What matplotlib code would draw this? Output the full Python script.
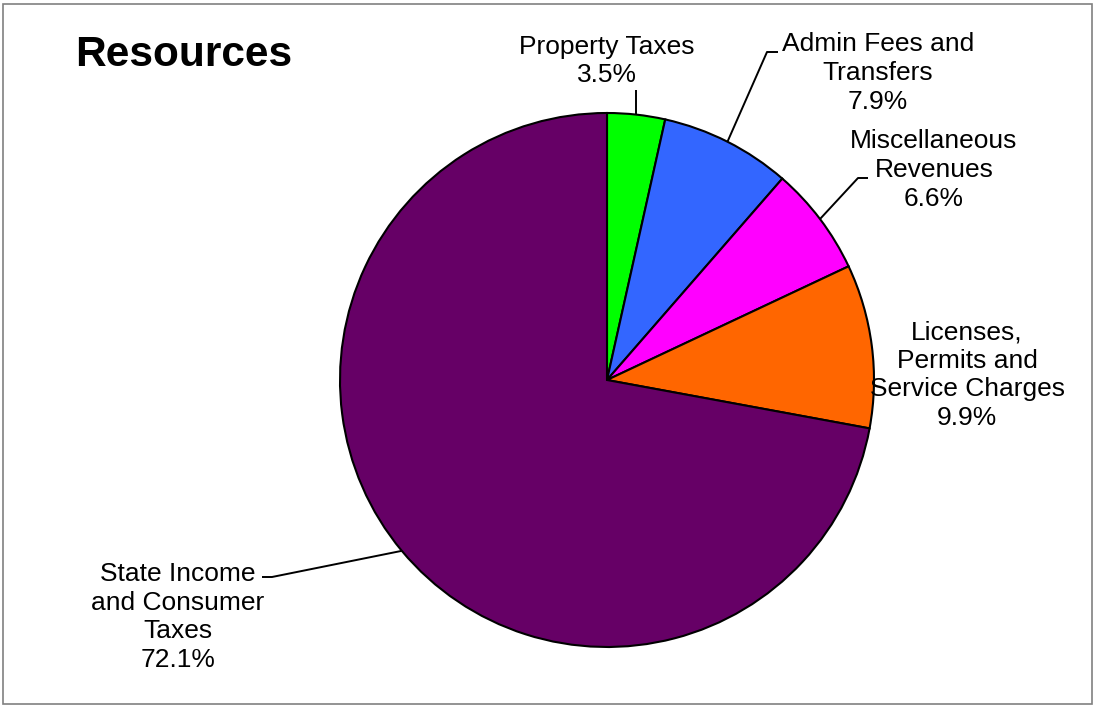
import numpy as np
import matplotlib.pyplot as plt
from matplotlib.patches import Rectangle

plt.rcParams['font.family'] = ['Liberation Sans', 'DejaVu Sans']

labels = ['Property Taxes', 'Admin Fees and\nTransfers', 'Miscellaneous\nRevenues',
          'Licenses,\nPermits and\nService Charges', 'State Income\nand Consumer\nTaxes']
shares = [3.5, 7.9, 6.6, 9.9, 72.1]
colors = ['#00FF00', '#3366FF', '#FF00FF', '#FF6600', '#660066']

W, H = 1096, 707
cx, cy, r = 607, 380, 267

# label block centres (px, y down) and leader elbow/end points (None = no leader)
label_pos = [(607, 61), (878, 73), (934, 170), (967, 375), (178, 617)]
leaders = [[(None, 90)], [(767, 52), (778, 52)], [(858, 178), (868, 178)], None,
           [(272, 577), (262, 577)]]

fig = plt.figure(figsize=(W / 100, H / 100), dpi=100)
ax = fig.add_axes([0, 0, 1, 1])

wedges, _ = ax.pie(shares, colors=colors, startangle=90, counterclock=False,
                   center=(cx, H - cy), radius=r,
                   wedgeprops=dict(edgecolor='black', linewidth=1.5))
# pie() resets the limits, so fix them afterwards
ax.set_xlim(0, W)
ax.set_ylim(0, H)
ax.set_aspect('equal')
ax.axis('off')

for w, lab, val, (lx, ly), lead in zip(wedges, labels, shares, label_pos, leaders):
    ax.text(lx, H - ly, f'{lab}\n{val:.1f}%', ha='center', va='center',
            fontsize=19, linespacing=1.24)
    if lead is None:
        continue
    ang = np.deg2rad((w.theta1 + w.theta2) / 2)
    ex, ey = cx + r * np.cos(ang), (H - cy) + r * np.sin(ang)
    xs, ys = [ex], [ey]
    for px, py in lead:
        xs.append(ex if px is None else px)
        ys.append(H - py)
    ax.plot(xs, ys, color='black', lw=1.4, solid_capstyle='butt')

ax.text(75, H - 55, 'Resources', fontsize=30.5, fontweight='bold', ha='left', va='center')

# outer frame
fig.patches.append(Rectangle((3 / W, 3 / H), (W - 7) / W, (H - 7) / H,
                             transform=fig.transFigure, fill=False,
                             edgecolor='#808080', linewidth=1.2))

fig.savefig('out.png', dpi=100)
